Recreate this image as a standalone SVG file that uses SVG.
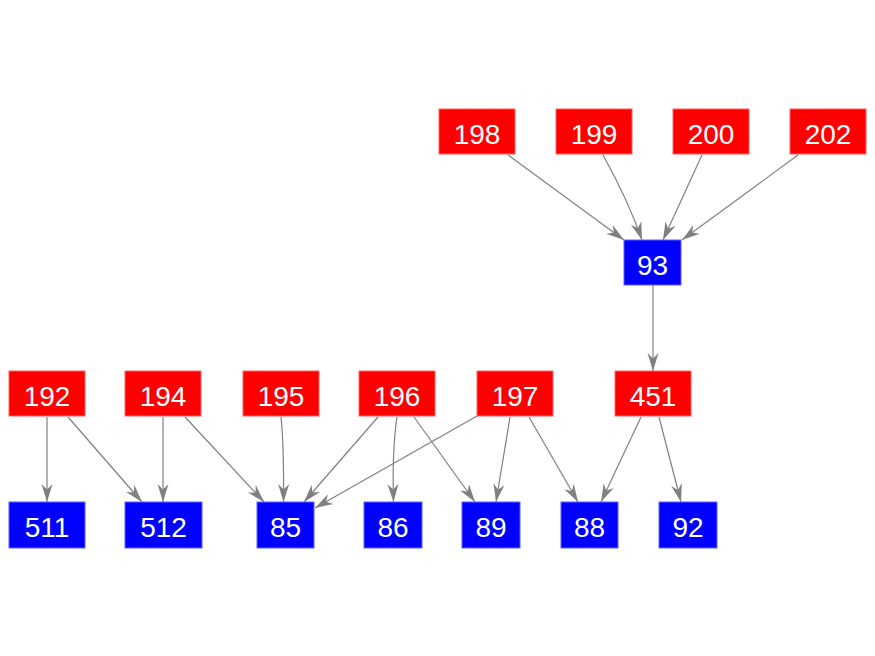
<svg xmlns="http://www.w3.org/2000/svg" width="875" height="656" viewBox="0 0 875 656">
<style>
.r{fill:#ff0000;stroke:#ff6060;stroke-width:1}
.b{fill:#0000ff;stroke:#6060ff;stroke-width:1}
.t{font-family:"Liberation Sans",Arial,sans-serif;font-size:28px;fill:#ffffff;text-anchor:middle}
.e{fill:none;stroke:#808080;stroke-width:1.2;marker-end:url(#ah)}
</style>
<defs>
<marker id="ah" markerUnits="userSpaceOnUse" markerWidth="19" markerHeight="13" viewBox="-18 -6.5 19 13" refX="0" refY="0" orient="auto">
<path d="M0,0 L-18,-5.5 L-12.5,0 L-18,5.5 Z" fill="#808080"/>
</marker>
</defs>
<rect width="875" height="656" fill="#ffffff"/>
<g id="edges">
<path class="e" d="M508,155 L624,240"/>
<path class="e" d="M603,155 Q628,200 642,240"/>
<path class="e" d="M702,155 L663,240"/>
<path class="e" d="M798,155 L682,240"/>
<path class="e" d="M653,285 L653,371"/>
<path class="e" d="M47,417 L47,502"/>
<path class="e" d="M68,417 L142,502"/>
<path class="e" d="M163,417 L163,502"/>
<path class="e" d="M185,417 L264,502"/>
<path class="e" d="M281,417 Q284,445 283.5,502"/>
<path class="e" d="M378,417 L304,502"/>
<path class="e" d="M477,416 L315,508"/>
<path class="e" d="M397,417 Q392,450 393.5,502"/>
<path class="e" d="M414,417 L475,502"/>
<path class="e" d="M510,417 L496,502"/>
<path class="e" d="M529,417 L578,502"/>
<path class="e" d="M641,417 L601,502"/>
<path class="e" d="M659,417 L681,502"/>
</g>
<g id="n198"><rect class="r" x="439" y="109" width="76" height="45"/><text class="t" x="477" y="144">198</text></g>
<g id="n199"><rect class="r" x="556" y="109" width="76" height="45"/><text class="t" x="594" y="144">199</text></g>
<g id="n200"><rect class="r" x="673" y="109" width="76" height="45"/><text class="t" x="711" y="144">200</text></g>
<g id="n202"><rect class="r" x="790" y="109" width="76" height="45"/><text class="t" x="828" y="144">202</text></g>
<g id="n93"><rect class="b" x="624" y="240" width="57" height="45"/><text class="t" x="652.5" y="275">93</text></g>
<g id="n192"><rect class="r" x="9" y="371" width="76" height="45"/><text class="t" x="47" y="406">192</text></g>
<g id="n194"><rect class="r" x="125" y="371" width="76" height="45"/><text class="t" x="163" y="406">194</text></g>
<g id="n195"><rect class="r" x="243" y="371" width="76" height="45"/><text class="t" x="281" y="406">195</text></g>
<g id="n196"><rect class="r" x="359" y="371" width="76" height="45"/><text class="t" x="397" y="406">196</text></g>
<g id="n197"><rect class="r" x="477" y="371" width="76" height="45"/><text class="t" x="515" y="406">197</text></g>
<g id="n451"><rect class="r" x="615" y="371" width="76" height="45"/><text class="t" x="653" y="406">451</text></g>
<g id="n511"><rect class="b" x="9" y="502" width="76" height="46"/><text class="t" x="47" y="537">511</text></g>
<g id="n512"><rect class="b" x="125" y="502" width="77" height="46"/><text class="t" x="163.5" y="537">512</text></g>
<g id="n85"><rect class="b" x="257" y="502" width="57" height="46"/><text class="t" x="285.5" y="537">85</text></g>
<g id="n86"><rect class="b" x="364" y="502" width="58" height="46"/><text class="t" x="393" y="537">86</text></g>
<g id="n89"><rect class="b" x="462" y="502" width="58" height="46"/><text class="t" x="491" y="537">89</text></g>
<g id="n88"><rect class="b" x="561" y="502" width="57" height="46"/><text class="t" x="589.5" y="537">88</text></g>
<g id="n92"><rect class="b" x="659" y="502" width="58" height="46"/><text class="t" x="688" y="537">92</text></g>
</svg>
